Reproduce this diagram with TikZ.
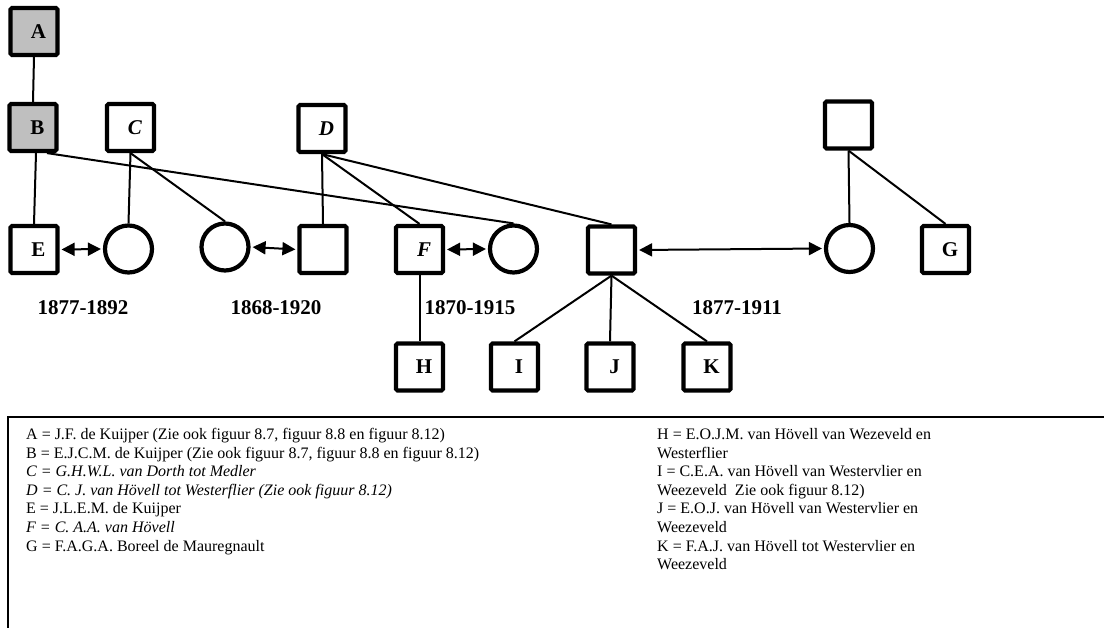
\documentclass[tikz,border=0pt]{standalone}
\usepackage{fontspec}
\setmainfont{Liberation Serif}
\usetikzlibrary{arrows.meta,calc}
\begin{document}
\begin{tikzpicture}[x=1pt,y=-1pt,
 person/.style={draw, line width=4.2pt, minimum size=47pt, inner sep=0pt, font=\fontsize{21}{21}\bfseries\selectfont},
 male/.style={person, rectangle, rounded corners=1.5pt},
 female/.style={person, circle},
 grey/.style={fill=black!25},
 link/.style={line width=2pt},
 marr/.style={line width=2pt, shorten <=2pt, shorten >=2pt, {Triangle[length=13pt,width=13pt]}-{Triangle[length=13pt,width=13pt]}},
 yr/.style={inner sep=0pt, font=\fontsize{21}{21}\bfseries\selectfont},
 leg/.style={anchor=base west, inner sep=0pt, font=\fontsize{16}{18}\selectfont}
]
\useasboundingbox (0,0) rectangle (1104,628);

% generation 1
\node[male,grey] (A) at (34,31.5) {\hspace{9pt}A};
% generation 2
\node[male,grey] (B) at (33,127.5) {\hspace{9pt}B};
\node[male] (C) at (130.5,127.5) {\hspace{9pt}\itshape C};
\node[male] (D) at (322,128.5) {\hspace{9pt}\itshape D};
\node[male] (TR) at (848.5,125) {};
% generation 3
\node[male] (E) at (34,249.5) {\hspace{9pt}E};
\node[female] (c1) at (128.5,249) {};
\node[female] (c2) at (225,247) {};
\node[male] (s2) at (323,249.5) {};
\node[male] (F) at (419.5,249.5) {\hspace{9pt}\itshape F};
\node[female] (c3) at (513.5,249) {};
\node[male] (s3) at (611.5,250) {};
\node[female] (c4) at (849.5,248.5) {};
\node[male] (G) at (945.5,249.5) {\hspace{9pt}G};
% generation 4
\node[male] (H) at (419.5,367) {\hspace{9pt}H};
\node[male] (I) at (514.5,367) {\hspace{9pt}I};
\node[male] (J) at (610,367) {\hspace{9pt}J};
\node[male] (K) at (707,367) {\hspace{9pt}K};

% descent lines
\draw[link] (A.south) -- (B.north);
\draw[link] ($(B.south)+(3,0)$) -- (E.north);
\draw[link] ($(B.south)+(14,0)$) -- (c3.north);
\draw[link] (C.south) -- (c1.north);
\draw[link] (C.south) -- (c2.north);
\draw[link] (D.south) -- (s2.north);
\draw[link] (D.south) -- (F.north);
\draw[link] (D.south) -- (s3.north);
\draw[link] (TR.south) -- (c4.north);
\draw[link] (TR.south) -- (G.north);
\draw[link] (F.south) -- (H.north);
\draw[link] (s3.south) -- (I.north);
\draw[link] (s3.south) -- (J.north);
\draw[link] (s3.south) -- (K.north);

% marriages
\draw[marr] (E.east) -- (c1.west);
\draw[marr] (c2.east) -- (s2.west);
\draw[marr] (F.east) -- (c3.west);
\draw[marr] (s3.east) -- (c4.west);

% years
\node[yr] (y1) at (83,308) {1877-1892};
\node[yr] (y2) at (276,308) {1868-1920};
\node[yr] (y3) at (470,308) {1870-1915};
\node[yr] (y4) at (737,308) {1877-1911};

% legend frame
\coordinate (lgTR) at (1104,417);
\coordinate (lgTL) at (8,417);
\coordinate (lgBL) at (8,628);
\draw[line width=1.5pt] (lgTR) -- (lgTL) -- (lgBL);

% legend text
\node[leg] (L1) at (26,439.5) {A = J.F. de Kuijper (Zie ook figuur 8.7, figuur 8.8 en figuur 8.12)};
\node[leg] (L2) at (26,458.1) {B = E.J.C.M. de Kuijper (Zie ook figuur 8.7, figuur 8.8 en figuur 8.12)};
\node[leg] (L3) at (26,476.7) {\itshape C = G.H.W.L. van Dorth tot Medler};
\node[leg] (L4) at (26,495.3) {\itshape D = C. J. van Hövell tot Westerflier (Zie ook figuur 8.12)};
\node[leg] (L5) at (26,513.9) {E = J.L.E.M. de Kuijper};
\node[leg] (L6) at (26,532.5) {\itshape F = C. A.A. van Hövell};
\node[leg] (L7) at (26,551.1) {G = F.A.G.A. Boreel de Mauregnault};

\node[leg] (R1) at (657,439.5) {H = E.O.J.M. van Hövell van Wezeveld en};
\node[leg] (R2) at (657,458.1) {Westerflier};
\node[leg] (R3) at (657,476.7) {I = C.E.A. van Hövell van Westervlier en};
\node[leg] (R4) at (657,495.3) {Weezeveld\ \ Zie ook figuur 8.12)};
\node[leg] (R5) at (657,513.9) {J = E.O.J. van Hövell van Westervlier en};
\node[leg] (R6) at (657,532.5) {Weezeveld};
\node[leg] (R7) at (657,551.1) {K = F.A.J. van Hövell tot Westervlier en};
\node[leg] (R8) at (657,569.7) {Weezeveld};
\end{tikzpicture}
\end{document}
